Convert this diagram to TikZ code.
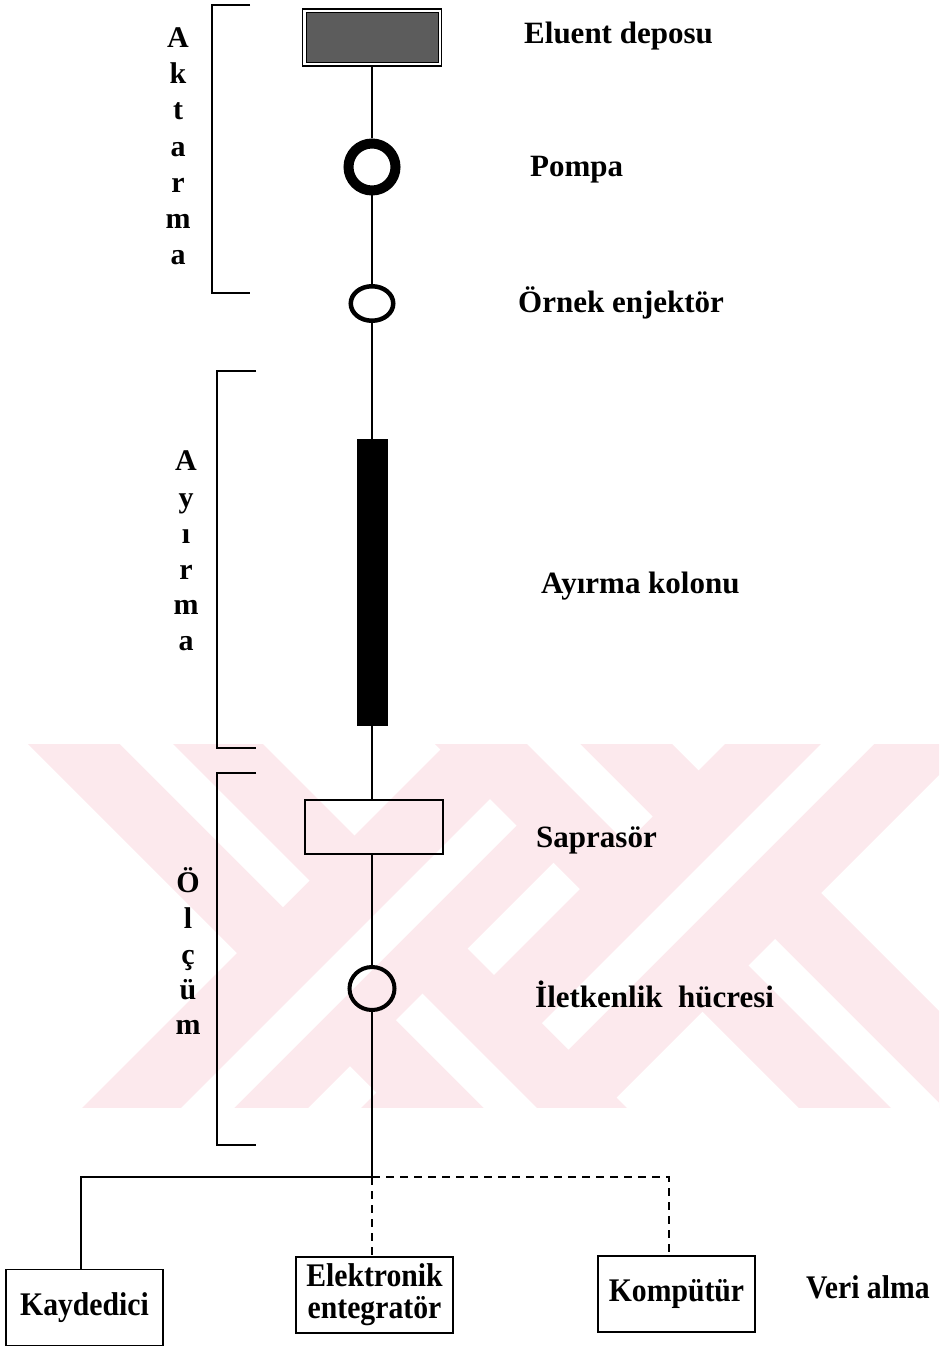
\documentclass[tikz,border=0pt]{standalone}
\usepackage{fontspec}
\setmainfont{Liberation Serif}
\usetikzlibrary{shapes.geometric,calc}
\definecolor{wmpink}{RGB}{252,233,237}
\tikzset{
  lbl/.style={anchor=base west, inner sep=0pt, font=\bfseries\fontsize{31}{36}\selectfont},
  side/.style={anchor=base, inner sep=0pt, font=\bfseries\fontsize{30}{34}\selectfont},
  pipe/.style={line width=1.8pt},
  brk/.style={line width=1.6pt},
  unit/.style={draw, line width=1.6pt, minimum width=157pt, minimum height=76pt,
    inner sep=0pt, align=center, font=\bfseries\fontsize{33}{32}\selectfont},
  ring/.style={draw, ellipse, inner sep=0pt},
  dashline/.style={line width=1.6pt, dash pattern=on 8pt off 6pt},
}
\newcommand{\narrow}[1]{\scalebox{0.9}[1]{#1}}
\begin{document}
\begin{tikzpicture}[x=1pt,y=-1pt]
\useasboundingbox (0,0) rectangle (939,1348);

% background emblem: crossing diagonal bands with white centre lines
\begin{scope}
\clip (0,744) rectangle (939,1107);
\fill[wmpink] (-11,705) -- (106.5,587.5) -- (806.5,1287.5) -- (689,1405) -- cycle;
\fill[wmpink] (192.5,501.5) -- (311,383) -- (1011,1083) -- (892.5,1201.5) -- cycle;
\fill[wmpink] (23,1167) -- (136,1280) -- (836,580) -- (723,467) -- cycle;
\fill[wmpink] (162.5,1306.5) -- (285,1429) -- (985,729) -- (862.5,606.5) -- cycle;
\fill[white] (35,659) -- (61.5,632.5) -- (309.5,880.5) -- (283,907) -- cycle;
\fill[white] (396,1020) -- (422.5,993.5) -- (761.5,1332.5) -- (735,1359) -- cycle;
\fill[white] (238.5,455.5) -- (265,429) -- (652.5,816.5) -- (626,843) -- cycle;
\fill[white] (748.5,965.5) -- (775,939) -- (965,1129) -- (938.5,1155.5) -- cycle;
\fill[white] (72.5,1216.5) -- (99,1243) -- (516.5,825.5) -- (490,799) -- cycle;
\fill[white] (542,1023) -- (568.5,1049.5) -- (937,681) -- (910.5,654.5) -- cycle;
\end{scope}

% flow components
\node[draw, line width=1.2pt, minimum width=139pt, minimum height=57pt, inner sep=0pt] (eluent) at (372,37.5) {};
\fill[black!64, draw=black, line width=0.8pt] ($(eluent.south west)+(4,-4)$) rectangle ($(eluent.north east)+(-4,4)$);
\node[ring, line width=10pt, minimum width=47pt, minimum height=47pt] (pump) at (372,167) {};
\node[ring, line width=4.5pt, minimum width=42.5pt, minimum height=34.5pt] (inj) at (372,303.5) {};
\node[fill=black, minimum width=31pt, minimum height=287pt, inner sep=0pt] (col) at (372,582.5) {};
\node[draw, line width=1.6pt, minimum width=138pt, minimum height=54pt, inner sep=0pt] (supp) at (374,827) {};
\node[ring, line width=4pt, minimum width=45pt, minimum height=43pt] (cell) at (372,988.5) {};

% data units
\node[unit] (kay) at (84.5,1307.5) {\narrow{Kaydedici}};
\node[unit] (elek) at (374.5,1295) {\narrow{Elektronik}\\\narrow{entegratör}};
\node[unit] (komp) at (676.5,1294) {\narrow{Kompütür}};

% connectors
\coordinate (j) at (372,1177);
\coordinate (kl) at (81,1177);
\coordinate (kr) at (669,1177);
\draw[pipe] (eluent.south) -- (pump.north);
\draw[pipe] (pump.south) -- (inj.north);
\draw[pipe] (inj.south) -- (col.north);
\draw[pipe] (col.south) -- (supp.north -| col.south);
\draw[pipe] (supp.south -| cell.north) -- (cell.north);
\draw[pipe] (cell.south) -- (j);
\draw[pipe] (j) -- (kl) -- (kl |- kay.north);
\draw[dashline] (j) -- (kr) -- (kr |- komp.north);
\draw[dashline] (j) -- (j |- elek.north);

% stage brackets
\draw[brk] (250,5) -- (212,5) -- (212,293) -- (250,293);
\draw[brk] (256,371) -- (217,371) -- (217,748) -- (256,748);
\draw[brk] (256,773) -- (217,773) -- (217,1145) -- (256,1145);

% stage names, one letter per line
\foreach \ch/\yy [count=\i] in {A/48,k/84,t/120,a/157,r/193,m/229,a/265}
  \node[side] (akt\i) at (178,\yy) {\ch};
\foreach \ch/\yy [count=\i] in {A/470,y/507,ı/543,r/579,m/614,a/650}
  \node[side] (ayr\i) at (186,\yy) {\ch};
\foreach \ch/\yy [count=\i] in {Ö/892,l/928,ç/964,ü/999,m/1034}
  \node[side] (olc\i) at (188,\yy) {\ch};

% component labels
\node[lbl] (l1) at (524,44) {Eluent deposu};
\node[lbl] (l2) at (530,177) {Pompa};
\node[lbl] (l3) at (518,312) {Örnek enjektör};
\node[lbl] (l4) at (541,593) {Ayırma kolonu};
\node[lbl] (l5) at (536,847) {Saprasör};
\node[lbl] (l6) at (535,1007) {İletkenlik\ \ hücresi};
\node[anchor=base west, inner sep=0pt, font=\bfseries\fontsize{33}{33}\selectfont] (l7) at (806,1298) {\narrow{Veri alma}};
\end{tikzpicture}
\end{document}
